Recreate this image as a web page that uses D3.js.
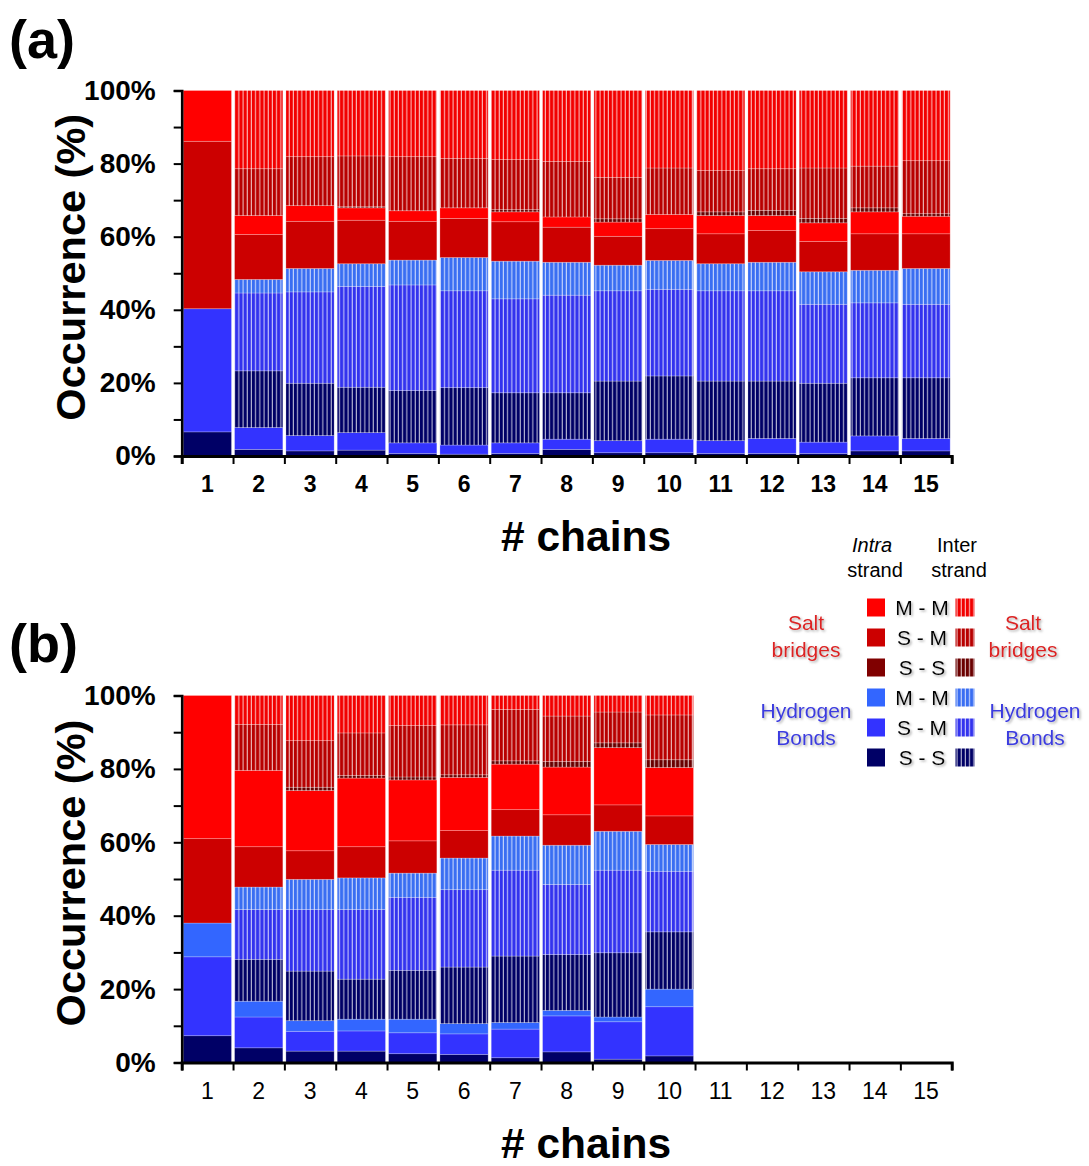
<!DOCTYPE html>
<html><head><meta charset="utf-8">
<script src="https://cdn.jsdelivr.net/npm/d3@7"></script>
<style>
body{margin:0;background:#fff}
svg{display:block}
text{font-family:Arial,"Liberation Sans",sans-serif}
</style>
</head><body>
<svg id="c" width="1089" height="1166"></svg>
<script>
// ---------- categories ----------
const chains = d3.range(1, 16).map(String);
const yTicks = [0, 10, 20, 30, 40, 50, 60, 70, 80, 90, 100];
const yLabels = ["0%", "", "20%", "", "40%", "", "60%", "", "80%", "", "100%"];

// series order (bottom -> top of stack)
const seriesKeys = ["hbIntraSS","hbIntraSM","hbIntraMM","hbInterSS","hbInterSM","hbInterMM",
                    "sbIntraSS","sbIntraSM","sbIntraMM","sbInterSS","sbInterSM","sbInterMM"];

// ---------- panel (a) values, % ----------
const hbIntraSS_a = [6.6,1.8,1.4,1.6,0.7,0.5,0.7,1.8,0.9,0.9,0.7,0.7,0.7,1.4,1.4];
const hbIntraSM_a = [33.7,6.0,4.2,4.8,2.9,2.5,2.9,2.8,3.3,3.7,3.5,4.1,3.1,4.1,3.4];
const hbIntraMM_a = [0,0,0,0,0,0,0,0,0,0,0,0,0,0,0];
const hbInterSS_a = [0,15.5,14.3,12.4,14.3,15.7,13.7,12.7,16.3,17.3,16.3,15.7,16.1,15.9,16.6];
const hbInterSM_a = [0,21.3,25.0,27.6,28.9,26.5,25.7,26.7,24.7,23.7,24.7,24.7,21.6,20.5,20.1];
const hbInterMM_a = [0,3.7,6.4,6.2,6.8,9.1,10.3,9.0,7.0,7.9,7.4,7.8,8.9,8.9,9.8];
const sbIntraSS_a = [0,0,0,0,0,0,0,0,0,0,0,0,0,0,0];
const sbIntraSM_a = [45.8,12.3,12.9,11.9,10.6,10.7,10.8,9.6,7.9,8.7,8.2,8.7,8.3,10.0,9.5];
const sbIntraMM_a = [13.9,5.2,4.3,3.4,2.9,2.9,2.7,2.8,3.9,3.9,5.0,4.1,5.1,6.0,4.8];
const sbInterSS_a = [0,0,0,0.3,0,0,0.6,0,0.9,0,1.0,1.4,1.2,1.1,0.7];
const sbInterSM_a = [0,12.8,13.4,13.9,14.8,13.5,13.7,15.2,11.3,12.7,11.3,11.4,13.8,11.4,14.5];
const sbInterMM_a = [0,21.4,18.1,17.9,18.1,18.6,18.9,19.4,23.8,21.2,21.9,21.4,21.2,20.7,19.2];

// ---------- panel (b) values, % (chains 1-10 only) ----------
const hbIntraSS_b = [7.3,4.0,3.1,3.1,2.4,2.2,1.3,2.9,0.9,1.8];
const hbIntraSM_b = [21.5,8.4,5.4,5.5,5.7,5.6,7.8,9.8,10.2,13.4];
const hbIntraMM_b = [9.2,4.3,2.9,3.2,3.7,2.8,1.8,1.5,1.3,4.8];
const hbInterSS_b = [0,11.4,13.5,10.9,13.3,15.4,18.1,15.2,17.5,15.6];
const hbInterSM_b = [0,13.6,16.8,19.0,19.9,21.1,23.4,19.1,22.5,16.5];
const hbInterMM_b = [0,6.1,8.2,8.6,6.6,8.6,9.3,10.7,10.6,7.3];
const sbIntraSS_b = [0,0,0,0,0,0,0,0,0,0];
const sbIntraSM_b = [23.0,11.0,7.8,8.5,8.8,7.5,7.2,8.3,7.2,7.8];
const sbIntraMM_b = [39.0,20.8,16.4,18.7,16.6,14.5,12.4,13.0,15.6,13.2];
const sbInterSS_b = [0,0,0.9,0.7,0.8,0.7,0.9,1.5,1.3,2.1];
const sbInterSM_b = [0,12.5,12.7,11.6,14.0,13.6,14.0,12.4,8.4,12.2];
const sbInterMM_b = [0,7.9,12.3,10.2,8.2,8.0,3.8,5.6,4.5,5.3];

// ---------- legend ----------
const legendPairs = ["M - M","S - M","S - S","M - M","S - M","S - S"];
const legendIntraKeys = ["sbIntraMM","sbIntraSM","sbIntraSS","hbIntraMM","hbIntraSM","hbIntraSS"];
const legendInterKeys = ["sbInterMM","sbInterSM","sbInterSS","hbInterMM","hbInterSM","hbInterSS"];

// ---------- colours ----------
const baseColor = {
  hbIntraSS:"#000066", hbIntraSM:"#3333ff", hbIntraMM:"#3366ff",
  hbInterSS:"#000066", hbInterSM:"#3333ee", hbInterMM:"#3a6ef2",
  sbIntraSS:"#800000", sbIntraSM:"#cc0000", sbIntraMM:"#ff0000",
  sbInterSS:"#6a0000", sbInterSM:"#b80000", sbInterMM:"#f20000"
};

const svg = d3.select("#c");
const defs = svg.append("defs");
const shadow = defs.append("filter").attr("id","shd").attr("x","-10%").attr("y","-10%").attr("width","130%").attr("height","140%");
shadow.append("feDropShadow").attr("dx",1.5).attr("dy",1.5).attr("stdDeviation",0.9)
  .attr("flood-color","#8a8a8a").attr("flood-opacity",0.7);

function fillFor(key){
  if (key.indexOf("Inter") < 0) return baseColor[key];
  const id = "pat_" + key;
  if (defs.select("#" + id).empty()){
    const p = defs.append("pattern").attr("id", id).attr("patternUnits","userSpaceOnUse")
      .attr("width", 4.2).attr("height", 10);
    p.append("rect").attr("width", 4.2).attr("height", 10).attr("fill", baseColor[key]);
    p.append("rect").attr("x", 3.1).attr("width", 1.1).attr("height", 10)
      .attr("fill", "rgba(255,255,255,0.72)");
  }
  return "url(#" + id + ")";
}

function buildRows(arrs, n){
  return d3.range(n).map(i => {
    const r = {chain: chains[i]};
    seriesKeys.forEach((k, j) => r[k] = arrs[j][i]);
    return r;
  });
}

const dataA = buildRows([hbIntraSS_a,hbIntraSM_a,hbIntraMM_a,hbInterSS_a,hbInterSM_a,hbInterMM_a,
  sbIntraSS_a,sbIntraSM_a,sbIntraMM_a,sbInterSS_a,sbInterSM_a,sbInterMM_a], 15);
const dataB = buildRows([hbIntraSS_b,hbIntraSM_b,hbIntraMM_b,hbInterSS_b,hbInterSM_b,hbInterMM_b,
  sbIntraSS_b,sbIntraSM_b,sbIntraMM_b,sbInterSS_b,sbInterSM_b,sbInterMM_b], 10);

function drawPanel(opt){
  const {data, top, bottom, letter, letterY, tickBold, titleY, labelY} = opt;
  const left = 181.7, right = 951.7;
  const g = svg.append("g");
  const x = d3.scaleBand().domain(chains).range([left, right]).paddingInner(0.06).paddingOuter(0.03);
  const y = d3.scaleLinear().domain([0, 100]).range([bottom, top]);
  const stack = d3.stack().keys(seriesKeys)(data);

  g.selectAll("g.layer").data(stack).join("g").attr("class","layer")
    .attr("fill", d => fillFor(d.key))
    .selectAll("rect").data(d => d.filter(p => p[1] - p[0] > 0)).join("rect")
    .attr("x", d => x(d.data.chain))
    .attr("width", x.bandwidth())
    .attr("y", d => y(d[1]))
    .attr("height", d => y(d[0]) - y(d[1]))
    .attr("stroke", "rgba(255,255,255,0.28)")
    .attr("stroke-width", 0.8);

  // y axis
  const ya = g.append("g").attr("transform", `translate(${left},0)`)
    .call(d3.axisLeft(y).tickValues(yTicks).tickSize(8).tickPadding(18)
      .tickFormat((d, i) => yLabels[i]));
  ya.select(".domain").attr("stroke","#000").attr("stroke-width",2.6);
  ya.selectAll(".tick line").attr("stroke","#000").attr("stroke-width",2);
  ya.selectAll(".tick text").attr("font-size",28).attr("font-weight","bold")
    .attr("font-family","Arial, 'Liberation Sans', sans-serif").attr("fill","#000");

  // x axis: ticks at category boundaries
  const xb = d3.scaleLinear().domain([0, 15]).range([left, right]);
  const xa = g.append("g").attr("transform", `translate(0,${bottom})`)
    .call(d3.axisBottom(xb).ticks(15).tickSize(8).tickFormat(""));
  xa.select(".domain").attr("stroke","#000").attr("stroke-width",3);
  xa.selectAll(".tick line").attr("stroke","#000").attr("stroke-width",2);

  const xl = g.append("g").attr("transform", `translate(0,${bottom})`)
    .call(d3.axisBottom(x).tickSize(0).tickPadding(labelY));
  xl.select(".domain").remove();
  xl.selectAll(".tick text").attr("font-size",23).attr("font-weight", tickBold ? "bold" : "normal")
    .attr("font-family","Arial, 'Liberation Sans', sans-serif").attr("fill","#000");

  // axis titles
  g.append("text").attr("transform", `translate(85,${(top + bottom) / 2 - 6}) rotate(-90)`)
    .attr("text-anchor","middle").attr("font-size",41.5).attr("font-weight","bold").text("Occurrence (%)");
  g.append("text").attr("x", 586).attr("y", titleY).attr("text-anchor","middle")
    .attr("font-size",42.5).attr("font-weight","bold").text("# chains");
  g.append("text").attr("x", 9).attr("y", letterY).attr("font-size",54).attr("font-weight","bold").text(letter);
}

drawPanel({data: dataA, top: 90.5, bottom: 456, letter: "(a)", letterY: 58, tickBold: true, titleY: 551, labelY: 20});
drawPanel({data: dataB, top: 695.5, bottom: 1062.5, letter: "(b)", letterY: 662, tickBold: false, titleY: 1158, labelY: 20});

// ---------- legend ----------
const lg = svg.append("g");
lg.append("text").attr("x",872).attr("y",552).attr("text-anchor","middle").attr("font-size",20)
  .attr("font-style","italic").text("Intra");
lg.append("text").attr("x",875).attr("y",577).attr("text-anchor","middle").attr("font-size",20).text("strand");
lg.append("text").attr("x",957).attr("y",552).attr("text-anchor","middle").attr("font-size",20).text("Inter");
lg.append("text").attr("x",959).attr("y",577).attr("text-anchor","middle").attr("font-size",20).text("strand");

const rowY = d3.scalePoint().domain(d3.range(6)).range([598.5, 748.5]);
const rows = lg.selectAll("g.row").data(d3.range(6)).join("g").attr("class","row")
  .attr("transform", i => `translate(0,${rowY(i)})`);
rows.append("rect").attr("x",867).attr("y",0).attr("width",18).attr("height",18)
  .attr("fill", i => fillFor(legendIntraKeys[i]));
rows.append("rect").attr("x",955.5).attr("y",0).attr("width",19).attr("height",18)
  .attr("fill", i => fillFor(legendInterKeys[i]));
rows.append("text").attr("x",922).attr("y",16).attr("text-anchor","middle").attr("font-size",21)
  .attr("filter","url(#shd)").text(i => legendPairs[i]);

function groupLabel(cx, y1, l1, l2, color){
  const t = lg.append("g").attr("filter","url(#shd)").attr("fill", color);
  t.append("text").attr("x",cx).attr("y",y1).attr("text-anchor","middle").attr("font-size",21).text(l1);
  t.append("text").attr("x",cx).attr("y",y1 + 27).attr("text-anchor","middle").attr("font-size",21).text(l2);
}
groupLabel(806, 630, "Salt", "bridges", "#dd2020");
groupLabel(1023, 630, "Salt", "bridges", "#dd2020");
groupLabel(806, 718, "Hydrogen", "Bonds", "#3a3ae0");
groupLabel(1035, 718, "Hydrogen", "Bonds", "#3a3ae0");
</script>
</body></html>
